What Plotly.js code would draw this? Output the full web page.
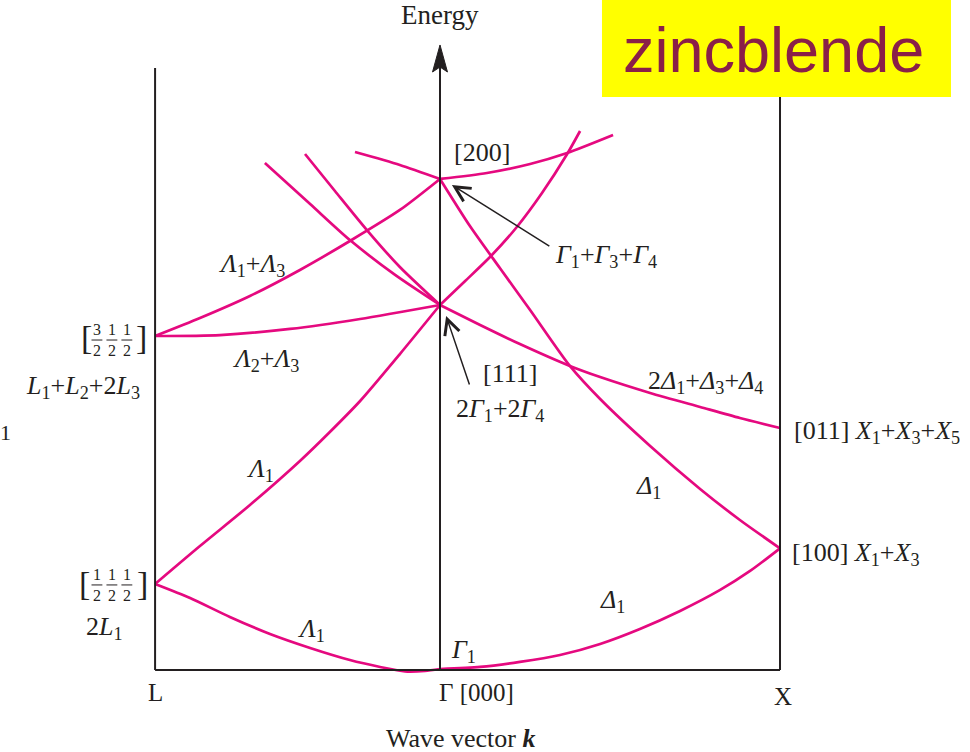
<!DOCTYPE html>
<html>
<head>
<meta charset="utf-8">
<script src="https://cdn.plot.ly/plotly-3.0.1.min.js"></script>
<style>
  html, body { margin: 0; padding: 0; background: #fff; }
  #chart { width: 970px; height: 752px; }
</style>
</head>
<body>
<div id="chart"></div>
<script>
// Empty-lattice (free-electron) bands of the zincblende structure along L – Γ – X.
// k: position along the path (Γ = 0, X = 1, L on the left);
// E: energy in units of (ħ²/2m)(2π/a)².

const K_L = -0.838, K_G = 0, K_X = 1;
const E_BASE = 0, E_TOP = 4.948, E_TIP = 5.137;

// ---- Γ–L (Λ) branches ----
const kLam1Low = [-0.838, -0.735, -0.618, -0.5, -0.382, -0.265, -0.176, -0.103, -0.044, 0];
const eLam1Low = [0.707, 0.592, 0.436, 0.296, 0.181, 0.082, 0.025, -0.012, -0.008, 0.008];

const kLam1Up = [-0.838, -0.706, -0.559, -0.412, -0.324, -0.235, -0.118, 0];
const eLam1Up = [0.707, 1.019, 1.356, 1.718, 1.956, 2.211, 2.597, 3.0];

const kLam23 = [-0.838, -0.647, -0.441, -0.235, 0];
const eLam23 = [2.745, 2.753, 2.803, 2.885, 3.0];

const kLam13 = [-0.838, -0.706, -0.559, -0.412, -0.265, -0.118, 0];
const eLam13 = [2.745, 2.893, 3.074, 3.288, 3.526, 3.781, 4.036];

const kLamHiA = [-0.515, -0.382, -0.265, -0.132, 0];
const eLamHiA = [4.167, 3.830, 3.534, 3.247, 3.0];

const kLamHiB = [-0.397, -0.309, -0.215, -0.118, 0];
const eLamHiB = [4.241, 3.937, 3.616, 3.312, 3.0];

const kLamHiC = [-0.25, -0.118, 0];
const eLamHiC = [4.257, 4.151, 4.036];

// ---- Γ–X (Δ) branches ----
const kDel1Low = [0, 0.118, 0.235, 0.353, 0.471, 0.588, 0.706, 0.824, 0.912, 1];
const eDel1Low = [0.008, 0.025, 0.066, 0.123, 0.214, 0.337, 0.485, 0.658, 0.814, 1.0];

const kDelUp111 = [0, 0.074, 0.147, 0.226, 0.3, 0.374, 0.412];
const eDelUp111 = [3.0, 3.197, 3.394, 3.641, 3.920, 4.241, 4.430];

const kDelUp200 = [0, 0.138, 0.265, 0.374, 0.509];
const eDelUp200 = [4.036, 4.085, 4.159, 4.249, 4.397];

const kDel1Mid = [0, 0.088, 0.176, 0.265, 0.382, 0.471, 0.618, 0.765, 0.882, 1];
const eDel1Mid = [4.036, 3.649, 3.304, 2.959, 2.499, 2.227, 1.841, 1.488, 1.233, 1.0];

const kDel134 = [0, 0.118, 0.235, 0.382, 0.471, 0.618, 0.765, 0.882, 1];
const eDel134 = [3.0, 2.836, 2.679, 2.499, 2.408, 2.277, 2.162, 2.071, 1.989];

// ---- fraction labels of the L points ----
const fracNumHigh = ['3', '1', '1'];
const fracNumLow = ['1', '1', '1'];
const fracDen = ['2', '2', '2'];

const PINK = '#E5097F';
const INK = '#231F20';
const SERIF = 'Liberation Serif, Times New Roman, serif';

const bands = [
  [kLam1Low, eLam1Low], [kLam1Up, eLam1Up], [kLam23, eLam23], [kLam13, eLam13],
  [kLamHiA, eLamHiA], [kLamHiB, eLamHiB], [kLamHiC, eLamHiC],
  [kDel1Low, eDel1Low], [kDelUp111, eDelUp111], [kDelUp200, eDelUp200],
  [kDel1Mid, eDel1Mid], [kDel134, eDel134]
];

const traces = bands.map(([k, e]) => ({
  type: 'scatter', mode: 'lines', x: k, y: e,
  line: { color: PINK, width: 2.7, shape: 'spline', smoothing: 0.7 },
  hoverinfo: 'skip', showlegend: false
}));

function lab(text, x, y, size, xanchor, extra) {
  return Object.assign({
    text: text, x: x, y: y, xref: 'x', yref: 'y', showarrow: false,
    xanchor: xanchor || 'center', yanchor: 'middle',
    font: { family: SERIF, size: size, color: INK }
  }, extra || {});
}

function pointer(kHead, eHead, kTail, eTail) {
  return {
    text: '', x: kHead, y: eHead, ax: kTail, ay: eTail, axref: 'x', ayref: 'y',
    xref: 'x', yref: 'y', showarrow: true, arrowhead: 5, arrowsize: 2.0,
    arrowwidth: 1.5, arrowcolor: INK
  };
}

const FS = 26;
const annotations = [
  lab('Energy', K_G, 5.383, 27),
  lab('[200]', 0.124, 4.257, 26),
  lab('<i>Γ</i><sub>1</sub>+<i>Γ</i><sub>3</sub>+<i>Γ</i><sub>4</sub>', 0.332, 3.40, FS, 'left'),
  lab('[111]', 0.206, 2.433, 26),
  lab('2<i>Γ</i><sub>1</sub>+2<i>Γ</i><sub>4</sub>', 0.176, 2.14, FS),
  lab('<i>Λ</i><sub>1</sub>+<i>Λ</i><sub>3</sub>', -0.553, 3.33, FS),
  lab('<i>Λ</i><sub>2</sub>+<i>Λ</i><sub>3</sub>', -0.512, 2.545, FS),
  lab('<i>Λ</i><sub>1</sub>', -0.529, 1.64, FS),
  lab('<i>Λ</i><sub>1</sub>', -0.379, 0.325, FS),
  lab('<i>Γ</i><sub>1</sub>', 0.068, 0.155, FS),
  lab('<i>Δ</i><sub>1</sub>', 0.506, 0.565, FS),
  lab('<i>Δ</i><sub>1</sub>', 0.612, 1.50, FS),
  lab('2<i>Δ</i><sub>1</sub>+<i>Δ</i><sub>3</sub>+<i>Δ</i><sub>4</sub>', 0.782, 2.365, FS),
  lab('[011] <i>X</i><sub>1</sub>+<i>X</i><sub>3</sub>+<i>X</i><sub>5</sub>', 1.035, 1.955, FS, 'left'),
  lab('[100] <i>X</i><sub>1</sub>+<i>X</i><sub>3</sub>', 1.029, 0.952, FS, 'left'),
  lab('<i>L</i><sub>1</sub>+<i>L</i><sub>2</sub>+2<i>L</i><sub>3</sub>', -0.876, 2.33, FS, 'right'),
  lab('2<i>L</i><sub>1</sub>', -1.047, 0.345, FS, 'left'),
  lab('1', -1.279, 1.956, 22),
  // brackets of the L-point wave vectors
  lab('[', -1.041, 2.729, 34), lab(']', -0.879, 2.729, 34),
  lab('[', -1.047, 0.707, 34), lab(']', -0.876, 0.707, 34),
  // path labels and axis title
  lab('L', K_L, -0.189, 25),
  lab('Γ [000]', -0.009, -0.181, 25, 'left'),
  lab('X', 1.009, -0.214, 25),
  lab('Wave vector <b><i>k</i></b>', 0.062, -0.559, 26),
  pointer(0.035, 3.986, 0.326, 3.477),
  pointer(0.018, 2.910, 0.088, 2.334),
  {
    text: 'zincblende', x: 0.797, y: 0.9335, xref: 'paper', yref: 'paper',
    showarrow: false, xanchor: 'center', yanchor: 'middle',
    font: { family: 'Liberation Sans, Arial, sans-serif', size: 63, color: '#8A1F48' }
  }
];

// stacked fractions [3/2 1/2 1/2] and [1/2 1/2 1/2]: one column per fraction
const fracCols = [-1.009, -0.965, -0.921];
const fracBarHalf = 0.016;
const shapes = [];
function addFraction(nums, eMid) {
  nums.forEach((n, i) => {
    annotations.push(lab(n + '<br>' + fracDen[i], fracCols[i], eMid, 16));
    shapes.push({
      type: 'line', xref: 'x', yref: 'y',
      x0: fracCols[i] - fracBarHalf, x1: fracCols[i] + fracBarHalf, y0: eMid, y1: eMid,
      line: { color: INK, width: 1 }
    });
  });
}
addFraction(fracNumHigh, 2.712);
addFraction(fracNumLow, 0.699);

// frame of the diagram and the energy axis
const frame = { color: INK, width: 2 };
shapes.push(
  { type: 'line', xref: 'x', yref: 'y', x0: K_L, x1: K_L, y0: E_BASE, y1: E_TOP, line: frame },
  { type: 'line', xref: 'x', yref: 'y', x0: K_X, x1: K_X, y0: E_BASE, y1: E_TOP, line: frame },
  { type: 'line', xref: 'x', yref: 'y', x0: K_L, x1: K_X, y0: E_BASE, y1: E_BASE, line: frame },
  { type: 'line', xref: 'x', yref: 'y', x0: K_G, x1: K_G, y0: E_BASE, y1: 4.97, line: frame }
);
const headHalf = 0.022, headBase = 4.915, headNotch = 4.956;
shapes.push({
  type: 'path', xref: 'x', yref: 'y',
  path: `M ${K_G},${E_TIP} L ${K_G - headHalf},${headBase} L ${K_G},${headNotch} L ${K_G + headHalf},${headBase} Z`,
  fillcolor: INK, line: { color: INK, width: 1 }
});
// label box in the top-right corner, drawn over the frame
shapes.push({
  type: 'rect', xref: 'paper', yref: 'paper', x0: 0.6206, x1: 0.9804, y0: 0.871, y1: 1,
  fillcolor: '#FFFF00', line: { width: 0 }, layer: 'above'
});

const layout = {
  width: 970, height: 752, autosize: false,
  margin: { l: 0, r: 0, t: 0, b: 0, pad: 0 },
  paper_bgcolor: '#fff', plot_bgcolor: 'rgba(0,0,0,0)',
  xaxis: { range: [-1.2941, 1.5588], visible: false, fixedrange: true },
  yaxis: { range: [-0.674, 5.5067], visible: false, fixedrange: true },
  showlegend: false,
  annotations: annotations,
  shapes: shapes
};

Plotly.newPlot('chart', traces, layout, { displayModeBar: false, staticPlot: true });
</script>
</body>
</html>
